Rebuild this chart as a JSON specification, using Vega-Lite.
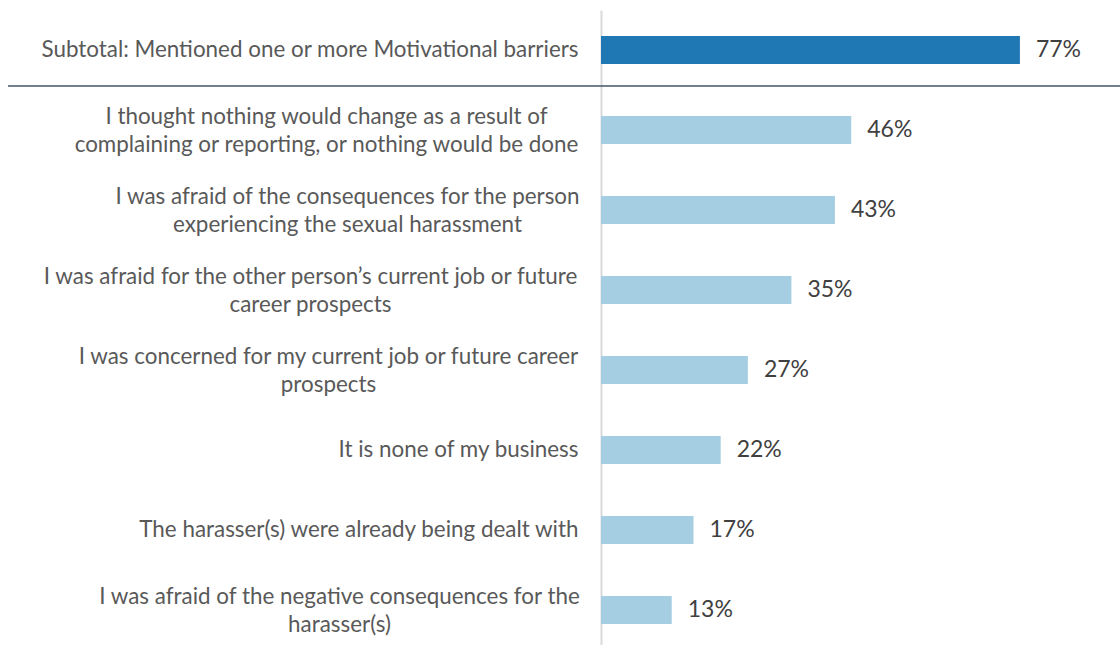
{
  "$schema": "https://vega.github.io/schema/vega-lite/v6.json",
  "width": 519,
  "height": 640,
  "autosize": {"type": "none"},
  "padding": {"left": 601, "top": 10, "right": 0, "bottom": 0},
  "background": "white",
  "config": {"view": {"stroke": null}, "font": "Lato"},
  "data": {
    "values": [
      {"label": "Subtotal: Mentioned one or more Motivational barriers", "value": 0.77, "kind": "subtotal"},
      {"label": "I thought nothing would change as a result of|complaining or reporting, or nothing would be done", "value": 0.46, "kind": "item"},
      {"label": "I was afraid of the consequences for the person|experiencing the sexual harassment", "value": 0.43, "kind": "item"},
      {"label": "I was afraid for the other person’s current job or future|career prospects", "value": 0.35, "kind": "item"},
      {"label": "I was concerned for my current job or future career|prospects", "value": 0.27, "kind": "item"},
      {"label": "It is none of my business", "value": 0.22, "kind": "item"},
      {"label": "The harasser(s) were already being dealt with", "value": 0.17, "kind": "item"},
      {"label": "I was afraid of the negative consequences for the|harasser(s)", "value": 0.13, "kind": "item"}
    ]
  },
  "encoding": {
    "y": {
      "field": "label",
      "type": "nominal",
      "sort": null,
      "scale": {"paddingInner": 0.65, "paddingOuter": 0.325},
      "axis": {
        "title": null,
        "ticks": false,
        "labelExpr": "split(datum.label, '|')",
        "labelAlign": {
          "condition": {"test": "indexof(datum.value, '|') >= 0", "value": "center"},
          "value": "right"
        },
        "labelPadding": {
          "condition": [
            {"test": "indexof(datum.value, 'complaining') >= 0", "value": 275},
            {"test": "indexof(datum.value, 'experiencing') >= 0", "value": 254},
            {"test": "indexof(datum.value, 'other person') >= 0", "value": 291},
            {"test": "indexof(datum.value, 'concerned') >= 0", "value": 273},
            {"test": "indexof(datum.value, 'negative') >= 0", "value": 262}
          ],
          "value": 23
        },
        "labelOffset": {
          "condition": {"test": "indexof(datum.value, '|') >= 0", "value": -13},
          "value": 0
        },
        "labelLimit": 700,
        "labelFont": "Lato",
        "labelFontSize": 22.4,
        "labelLineHeight": 28,
        "labelColor": "#595959",
        "domainColor": "#d9d9d9",
        "domainWidth": 2
      }
    }
  },
  "layer": [
    {
      "mark": {"type": "bar"},
      "encoding": {
        "x": {"field": "value", "type": "quantitative", "scale": {"domain": [0, 0.954], "nice": false}, "axis": null},
        "color": {"field": "kind", "type": "nominal", "scale": {"domain": ["subtotal", "item"], "range": ["#1f77b4", "#a6cee3"]}, "legend": null}
      }
    },
    {
      "mark": {"type": "text", "align": "left", "baseline": "middle", "dx": 16, "fontSize": 23, "font": "Lato", "color": "#404040"},
      "encoding": {
        "x": {"field": "value", "type": "quantitative"},
        "text": {"field": "value", "type": "quantitative", "format": ".0%"}
      }
    },
    {
      "data": {"values": [{}]},
      "mark": {"type": "rule", "color": "#44546a", "strokeWidth": 1.5, "yOffset": 36},
      "encoding": {
        "y": {"datum": "Subtotal: Mentioned one or more Motivational barriers", "type": "nominal"},
        "x": {"datum": -1.09},
        "x2": {"datum": 0.954}
      }
    }
  ]
}
